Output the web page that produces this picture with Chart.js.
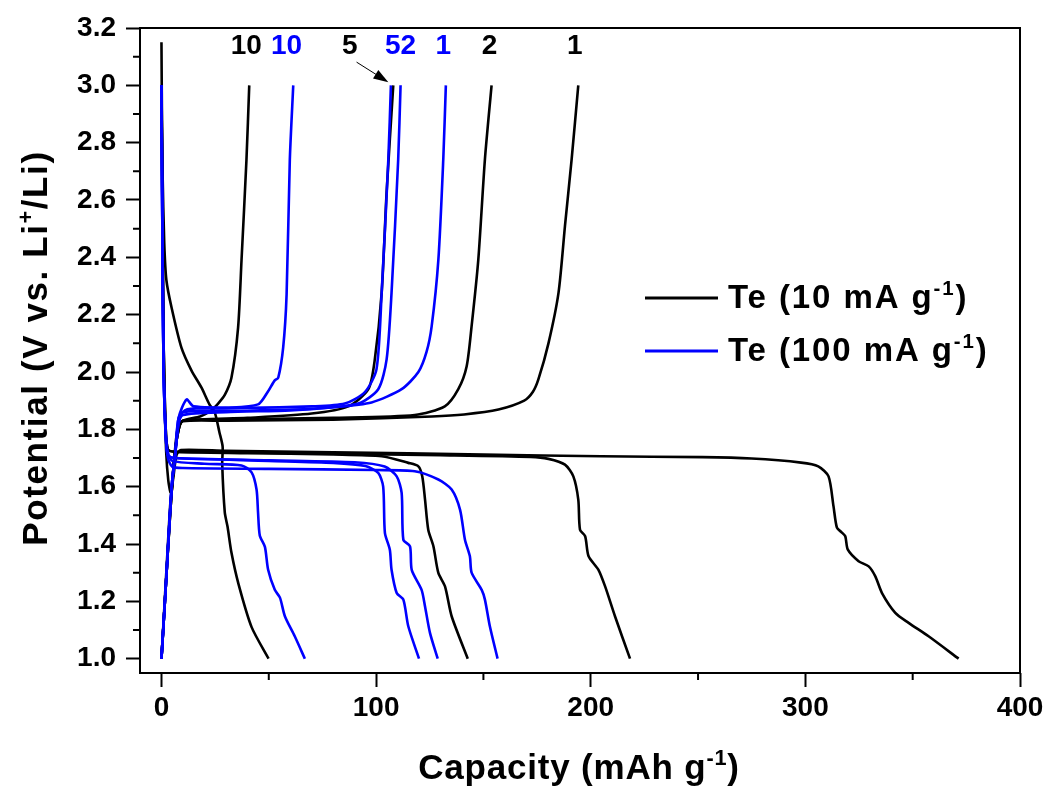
<!DOCTYPE html>
<html>
<head>
<meta charset="utf-8">
<script src="https://cdn.jsdelivr.net/npm/chart.js@4"></script>
<style>
  html, body { margin: 0; padding: 0; background: #fff; }
  #wrap { width: 1049px; height: 787px; }
</style>
</head>
<body>
<div id="wrap"><canvas id="chart"></canvas></div>
<script>
// Capacity (mAh g-1) / potential (V) pairs
// 10 mA g-1 (black)
const low1Discharge = [[0,3.15],[0.3,2.8],[0.7,2.3],[1.3,1.95],[2.2,1.72],[3.2,1.62],[4.3,1.58],[5.5,1.63],[7,1.71],[9,1.728],[30,1.725],[80,1.72],[150,1.712],[205,1.706],[252,1.703],[275,1.698],[298,1.684],[306,1.671],[310.8,1.636],[313.1,1.532],[314.7,1.457],[317,1.44],[318.6,1.427],[319.8,1.38],[324.8,1.34],[329.5,1.322],[332.6,1.287],[335.7,1.229],[341.9,1.16],[348.1,1.125],[357.4,1.078],[371.4,1.0]];
const low1Charge = [[0,1.0],[1.5,1.2],[3,1.4],[4.2,1.55],[5,1.6],[6,1.7],[7.5,1.8],[10,1.828],[30,1.83],[80,1.834],[126,1.845],[141,1.852],[157,1.869],[169,1.9],[173,1.93],[175.6,1.974],[180.3,2.1],[185,2.277],[188,2.51],[191.1,2.742],[194.2,3.0]];
const low2Discharge = [[0,3.0],[0.5,2.5],[1,2.1],[2,1.8],[3,1.73],[6,1.722],[30,1.72],[80,1.715],[130,1.71],[172,1.704],[180.3,1.697],[188,1.677],[191.9,1.636],[194.2,1.555],[195,1.45],[197.4,1.427],[199,1.357],[203.6,1.31],[206.7,1.252],[211.3,1.148],[218.3,1.0]];
const low2Charge = [[0,1.0],[2,1.25],[4,1.5],[6,1.7],[8,1.8],[10,1.83],[40,1.835],[80,1.84],[118,1.85],[132,1.88],[138.3,1.94],[142.2,2.02],[144.5,2.16],[147.6,2.39],[150.7,2.742],[153.8,3.0]];
const low5Discharge = [[0,3.0],[0.5,2.5],[1,2.1],[2,1.8],[3,1.73],[6,1.722],[40,1.717],[80,1.712],[102.6,1.706],[115,1.683],[119.7,1.671],[121.5,1.636],[122.8,1.555],[124.3,1.45],[126.7,1.392],[129,1.299],[132.1,1.252],[135.2,1.148],[142.7,1.0]];
const low5Charge = [[0,1.0],[2,1.25],[4,1.5],[6,1.7],[8,1.8],[10,1.83],[40,1.84],[70,1.855],[87,1.88],[96.4,1.94],[99.4,2.044],[102.6,2.277],[104.9,2.627],[108,3.0]];
const low10Discharge = [[0,3.0],[0.5,2.7],[1.3,2.45],[2.3,2.32],[4.7,2.225],[9.3,2.085],[14,2.005],[18.6,1.946],[22.4,1.886],[24.8,1.86],[27,1.79],[28.5,1.74],[28.3,1.68],[29.5,1.51],[30.8,1.46],[32.6,1.37],[35.9,1.26],[42,1.11],[49.9,1.0]];
const low10Charge = [[0,1.0],[2,1.25],[4,1.5],[6,1.7],[8,1.8],[10,1.83],[18,1.845],[23,1.865],[26.4,1.89],[29.5,1.92],[32.6,1.98],[35.7,2.155],[37.3,2.39],[39.6,2.74],[40.9,3.0]];

// 100 mA g-1 (blue)
const high1Discharge = [[0,2.97],[0.5,2.4],[1,2.0],[2,1.78],[3,1.7],[5,1.67],[10,1.665],[50,1.662],[100,1.658],[118,1.654],[129,1.625],[135.2,1.59],[139.1,1.52],[141.4,1.415],[143.7,1.357],[144.5,1.3],[149.2,1.24],[150.7,1.206],[153,1.113],[156.6,1.0]];
const high1Charge = [[0,1.0],[2,1.25],[3.9,1.5],[5,1.62],[6.5,1.72],[8,1.82],[10,1.85],[30,1.86],[60,1.866],[79,1.876],[97.9,1.894],[111.9,1.94],[119.7,2.0],[123.5,2.07],[125.9,2.16],[129,2.39],[131.3,2.742],[132.5,3.0]];
const high2Discharge = [[0,3.0],[0.5,2.4],[1,2.0],[2,1.78],[3,1.71],[6,1.7],[50,1.692],[90,1.685],[104,1.67],[109.6,1.636],[111.9,1.578],[112.7,1.415],[115.8,1.392],[116.6,1.31],[121.2,1.24],[122.8,1.182],[125.1,1.09],[128.7,1.0]];
const high2Charge = [[0,1.0],[2,1.25],[3.9,1.5],[5,1.62],[6.5,1.72],[8,1.82],[10,1.86],[40,1.865],[70,1.872],[91.7,1.89],[101,1.94],[104.9,2.044],[107.2,2.277],[110.3,2.742],[111.4,3.0]];
const high5Discharge = [[0,3.0],[0.5,2.4],[1,2.0],[2,1.78],[3,1.71],[6,1.7],[50,1.69],[80,1.683],[95,1.672],[101,1.648],[103.3,1.6],[104.1,1.439],[106.4,1.38],[107.2,1.31],[109.6,1.229],[112.7,1.206],[115,1.113],[120,1.0]];
const high5Charge = [[0,1.0],[2,1.25],[3.9,1.5],[5,1.62],[6.5,1.72],[8,1.84],[11.7,1.904],[15,1.88],[40,1.875],[70,1.88],[85.4,1.89],[94.8,1.93],[100.2,2.01],[102.6,2.277],[105.7,2.742],[106.9,3.0]];
const high10Discharge = [[0,3.0],[0.5,2.4],[1,2.0],[2,1.78],[3,1.72],[5,1.69],[20,1.68],[37.3,1.674],[42,1.65],[44.3,1.59],[45,1.51],[45.8,1.43],[48.2,1.39],[49.7,1.31],[52.8,1.24],[55.2,1.213],[57.5,1.148],[62.1,1.078],[66.8,1.0]];
const high10Charge = [[0,1.0],[2,1.25],[3.9,1.5],[5,1.62],[6.5,1.72],[8,1.84],[12,1.87],[30,1.875],[45,1.887],[49.7,1.933],[52.7,1.97],[54.4,1.98],[56.7,2.085],[58.3,2.27],[59.8,2.74],[61.4,3.0]];

// axis ticks
const xMajorTicks = [0, 100, 200, 300, 400];
const xMinorTicks = [50, 150, 250, 350];
const yMajorTicks = [1.0, 1.2, 1.4, 1.6, 1.8, 2.0, 2.2, 2.4, 2.6, 2.8, 3.0, 3.2];
const yMinorTicks = [1.1, 1.3, 1.5, 1.7, 1.9, 2.1, 2.3, 2.5, 2.7, 2.9, 3.1];

// cycle number labels, anchored in data units
const cycleLabels = ['10', '10', '5', '52', '1', '2', '1'];
const cycleLabelCapacity = [39.5, 58.3, 87.7, 111.4, 131.3, 152.9, 192.6];
const cycleLabelRate = ['low', 'high', 'low', 'high', 'high', 'low', 'low'];
const cycleLabelPotential = 3.136;
const arrowFrom = [90.9, 3.081];
const arrowTo = [105.7, 3.011];

const BLACK = '#000000';
const BLUE = '#0000ff';
const FONT = '"Liberation Sans", Arial, Helvetica, sans-serif';

function curve(data, color) {
    return {
        data: data,
        borderColor: color,
        borderWidth: 2.6,
        pointRadius: 0,
        showLine: true,
        fill: false,
        tension: 0.25
    };
}

// blue first so it lies on top of black
const datasets = [
    curve(high1Discharge, BLUE), curve(high1Charge, BLUE),
    curve(high2Discharge, BLUE), curve(high2Charge, BLUE),
    curve(high5Discharge, BLUE), curve(high5Charge, BLUE),
    curve(high10Discharge, BLUE), curve(high10Charge, BLUE),
    curve(low1Discharge, BLACK), curve(low1Charge, BLACK),
    curve(low2Discharge, BLACK), curve(low2Charge, BLACK),
    curve(low5Discharge, BLACK), curve(low5Charge, BLACK),
    curve(low10Discharge, BLACK), curve(low10Charge, BLACK)
];

// text with superscript pieces, y is the baseline
function drawRich(ctx, parts, x, y, size, color, align, spacing) {
    ctx.letterSpacing = (spacing || 0) + 'px';
    let w = 0;
    parts.forEach(p => {
        ctx.font = `bold ${p.sup ? size * 0.62 : size}px ${FONT}`;
        w += ctx.measureText(p.t).width;
    });
    let cx = align === 'center' ? x - w / 2 : x;
    ctx.fillStyle = color;
    ctx.textAlign = 'left';
    ctx.textBaseline = 'alphabetic';
    parts.forEach(p => {
        ctx.font = `bold ${p.sup ? size * 0.62 : size}px ${FONT}`;
        ctx.fillText(p.t, cx, p.sup ? y - size * 0.4 : y);
        cx += ctx.measureText(p.t).width;
    });
    ctx.letterSpacing = '0px';
}

const decorations = {
    id: 'decorations',
    afterDraw(chart) {
        const ctx = chart.ctx;
        const area = chart.chartArea;
        const xs = chart.scales.x;
        const ys = chart.scales.y;
        ctx.save();

        // frame
        ctx.strokeStyle = BLACK;
        ctx.lineWidth = 2;
        ctx.strokeRect(area.left, area.top, area.right - area.left, area.bottom - area.top);

        // minor ticks
        ctx.beginPath();
        xMinorTicks.forEach(v => {
            const px = xs.getPixelForValue(v);
            ctx.moveTo(px, area.bottom);
            ctx.lineTo(px, area.bottom + 7);
        });
        yMinorTicks.forEach(v => {
            const py = ys.getPixelForValue(v);
            ctx.moveTo(area.left, py);
            ctx.lineTo(area.left - 7, py);
        });
        ctx.stroke();

        // axis titles
        drawRich(ctx, [{ t: 'Capacity (mAh g' }, { t: '-1', sup: true }, { t: ')' }],
            579, 779, 35, BLACK, 'center', 0.8);
        ctx.save();
        ctx.translate(47, 348);
        ctx.rotate(-Math.PI / 2);
        drawRich(ctx, [{ t: 'Potential (V vs. Li' }, { t: '+', sup: true }, { t: '/Li)' }],
            0, 0, 35, BLACK, 'center', 1.6);
        ctx.restore();

        // legend
        [[BLACK, 'Te (10 mA g', 298], [BLUE, 'Te (100 mA g', 351]].forEach(([color, label, y]) => {
            ctx.strokeStyle = color;
            ctx.lineWidth = 3;
            ctx.beginPath();
            ctx.moveTo(645, y);
            ctx.lineTo(718, y);
            ctx.stroke();
            drawRich(ctx, [{ t: label }, { t: '-1', sup: true }, { t: ')' }], 728, y + 10, 33, BLACK, 'left', 1.9);
        });

        // cycle numbers
        ctx.font = `bold 28px ${FONT}`;
        ctx.textAlign = 'center';
        ctx.textBaseline = 'middle';
        cycleLabels.forEach((label, i) => {
            ctx.fillStyle = cycleLabelRate[i] === 'low' ? BLACK : BLUE;
            ctx.fillText(label, xs.getPixelForValue(cycleLabelCapacity[i]), ys.getPixelForValue(cycleLabelPotential));
        });

        // arrow pointing at cycle 5
        const x0 = xs.getPixelForValue(arrowFrom[0]), y0 = ys.getPixelForValue(arrowFrom[1]);
        const x1 = xs.getPixelForValue(arrowTo[0]), y1 = ys.getPixelForValue(arrowTo[1]);
        const ang = Math.atan2(y1 - y0, x1 - x0);
        ctx.strokeStyle = BLACK;
        ctx.lineWidth = 1;
        ctx.beginPath();
        ctx.moveTo(x0, y0);
        ctx.lineTo(x1 - 12 * Math.cos(ang), y1 - 12 * Math.sin(ang));
        ctx.stroke();
        ctx.fillStyle = BLACK;
        ctx.beginPath();
        ctx.moveTo(x1, y1);
        ctx.lineTo(x1 - 15 * Math.cos(ang) + 5 * Math.sin(ang), y1 - 15 * Math.sin(ang) - 5 * Math.cos(ang));
        ctx.lineTo(x1 - 15 * Math.cos(ang) - 5 * Math.sin(ang), y1 - 15 * Math.sin(ang) + 5 * Math.cos(ang));
        ctx.closePath();
        ctx.fill();

        ctx.restore();
    }
};

new Chart(document.getElementById('chart'), {
    type: 'scatter',
    data: { datasets: datasets },
    options: {
        responsive: true,
        maintainAspectRatio: false,
        animation: false,
        layout: { padding: { top: 28, right: 29, left: 0, bottom: 0 } },
        plugins: {
            legend: { display: false },
            tooltip: { enabled: false }
        },
        scales: {
            x: {
                type: 'linear',
                min: -10,
                max: 400,
                afterBuildTicks: scale => { scale.ticks = xMajorTicks.map(v => ({ value: v })); },
                afterFit: scale => { scale.height = 114; },
                border: { display: false },
                grid: { drawOnChartArea: false, drawTicks: true, tickLength: 14, tickWidth: 2, tickColor: BLACK },
                ticks: {
                    color: BLACK,
                    padding: 4,
                    maxRotation: 0,
                    font: { family: FONT, size: 28, weight: 'bold' }
                }
            },
            y: {
                type: 'linear',
                min: 0.95,
                max: 3.2,
                afterBuildTicks: scale => { scale.ticks = yMajorTicks.map(v => ({ value: v })); },
                afterFit: scale => { scale.width = 140; },
                border: { display: false },
                grid: { drawOnChartArea: false, drawTicks: true, tickLength: 14, tickWidth: 2, tickColor: BLACK },
                ticks: {
                    color: BLACK,
                    padding: 10,
                    font: { family: FONT, size: 28, weight: 'bold' },
                    callback: v => v.toFixed(1)
                }
            }
        }
    },
    plugins: [decorations]
});
</script>
</body>
</html>
